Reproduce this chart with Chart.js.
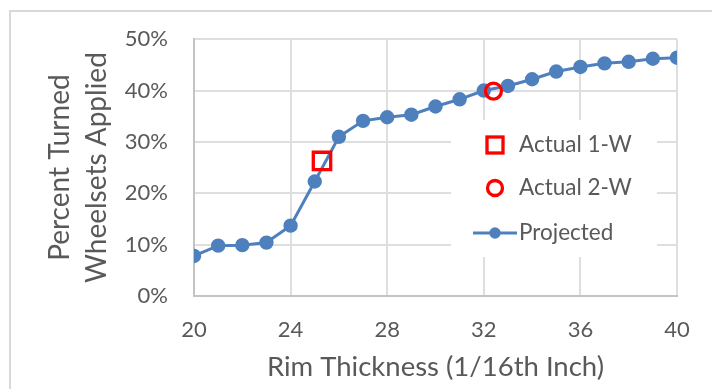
<!DOCTYPE html>
<html>
<head>
<meta charset="utf-8">
<script src="https://cdn.jsdelivr.net/npm/chart.js@4"></script>
<style>
  body { margin: 0; background: #fff; }
  #wrap { position: relative; width: 712px; height: 389px; overflow: hidden; }
  #frame { position: absolute; left: 9px; top: 10px; width: 720px; height: 400px;
           border-left: 2px solid #d9d9d9; border-top: 2px solid #d9d9d9; }
  canvas { position: absolute; left: 0; top: 0; }
</style>
</head>
<body>
<div id="wrap">
  <div id="frame"></div>
  <canvas id="rimChart" width="712" height="389"></canvas>
</div>
<script>
// values (percent)
const thickness = [20, 21, 22, 23, 24, 25, 26, 27, 28, 29, 30, 31, 32, 33, 34, 35, 36, 37, 38, 39, 40];
const projected = [7.8, 9.8, 9.9, 10.4, 13.7, 22.3, 31.0, 34.1, 34.8, 35.3, 36.9, 38.3, 40.0, 40.9, 42.2, 43.7, 44.6, 45.3, 45.6, 46.2, 46.4];
const actual1W = [{ x: 25.3, y: 26.3 }];
const actual2W = [{ x: 32.4, y: 39.9 }];
const xTicks = [20, 24, 28, 32, 36, 40];
const yTicks = [0, 10, 20, 30, 40, 50];

const textGray = '#595959';
const blue = '#4e80bd';
const red = '#ff0000';
const fontFam = 'Lato, "Open Sans", sans-serif';

// legend drawn inside the plot, on a white box
const boxLegend = {
  id: 'boxLegend',
  afterDraw(chart) {
    const ctx = chart.ctx;
    ctx.save();
    ctx.fillStyle = '#fff';
    ctx.fillRect(451, 120, 206, 137);
    const rows = [145, 188, 233];
    chart.data.datasets.forEach((ds, i) => {
      const y = rows[i];
      const cx = 495;
      ctx.strokeStyle = ds.borderColor;
      ctx.fillStyle = ds.pointBackgroundColor;
      if (ds.pointStyle === 'rect') {
        ctx.lineWidth = 3.3;
        ctx.strokeRect(cx - 8, y - 8, 16, 16);
      } else if (ds.showLine === false) {
        ctx.lineWidth = 3.3;
        ctx.beginPath();
        ctx.arc(cx, y, 7.5, 0, Math.PI * 2);
        ctx.stroke();
      } else {
        ctx.lineWidth = ds.borderWidth;
        ctx.beginPath();
        ctx.moveTo(473, y);
        ctx.lineTo(517, y);
        ctx.stroke();
        ctx.beginPath();
        ctx.arc(cx, y, ds.pointRadius, 0, Math.PI * 2);
        ctx.fill();
      }
      ctx.fillStyle = textGray;
      ctx.font = '22.5px ' + fontFam;
      ctx.textBaseline = 'middle';
      ctx.textAlign = 'left';
      ctx.fillText(ds.label, 519, y);
    });
    ctx.restore();
  }
};

new Chart(document.getElementById('rimChart'), {
  type: 'line',
  data: {
    datasets: [
      {
        label: 'Actual 1-W',
        data: actual1W,
        showLine: false,
        pointStyle: 'rect',
        pointRadius: 12.3,
        borderWidth: 3.3,
        borderColor: red,
        pointBackgroundColor: 'rgba(0,0,0,0)'
      },
      {
        label: 'Actual 2-W',
        data: actual2W,
        showLine: false,
        pointStyle: 'circle',
        pointRadius: 8,
        borderWidth: 3.3,
        borderColor: red,
        pointBackgroundColor: 'rgba(0,0,0,0)'
      },
      {
        label: 'Projected',
        data: thickness.map((t, i) => ({ x: t, y: projected[i] })),
        borderColor: blue,
        backgroundColor: blue,
        pointBackgroundColor: blue,
        pointBorderColor: blue,
        borderWidth: 3,
        pointRadius: 5.7,
        tension: 0
      }
    ]
  },
  options: {
    responsive: false,
    animation: false,
    layout: { padding: { top: 33, right: 35, left: 0, bottom: 0 } },
    plugins: { legend: { display: false }, tooltip: { enabled: false } },
    scales: {
      x: {
        type: 'linear',
        min: 20,
        max: 40,
        afterFit(scale) { scale.height = 93; },
        afterBuildTicks(scale) { scale.ticks = xTicks.map(v => ({ value: v })); },
        grid: { color: '#dedede', lineWidth: 2, drawTicks: false },
        border: { color: '#c4c4c4', width: 2 },
        ticks: { color: textGray, font: { family: fontFam, size: 22 }, padding: 21 },
        title: {
          display: true,
          text: 'Rim Thickness (1/16th Inch)',
          color: textGray,
          font: { family: fontFam, size: 27.5, lineHeight: '32px' },
          padding: { top: 0, bottom: 6 }
        }
      },
      y: {
        min: 0,
        max: 50,
        afterFit(scale) { scale.width = 194; },
        afterBuildTicks(scale) { scale.ticks = yTicks.map(v => ({ value: v })); },
        grid: { color: '#dedede', lineWidth: 2, drawTicks: false },
        border: { color: '#c4c4c4', width: 2 },
        ticks: {
          color: textGray,
          font: { family: fontFam, size: 22 },
          padding: 26,
          callback: v => v + '%'
        },
        title: {
          display: true,
          text: ['Percent Turned', 'Wheelsets Applied'],
          color: textGray,
          font: { family: fontFam, size: 28, lineHeight: '37px' },
          padding: { top: 41.5, bottom: 0 }
        }
      }
    }
  },
  plugins: [boxLegend]
});
</script>
</body>
</html>
